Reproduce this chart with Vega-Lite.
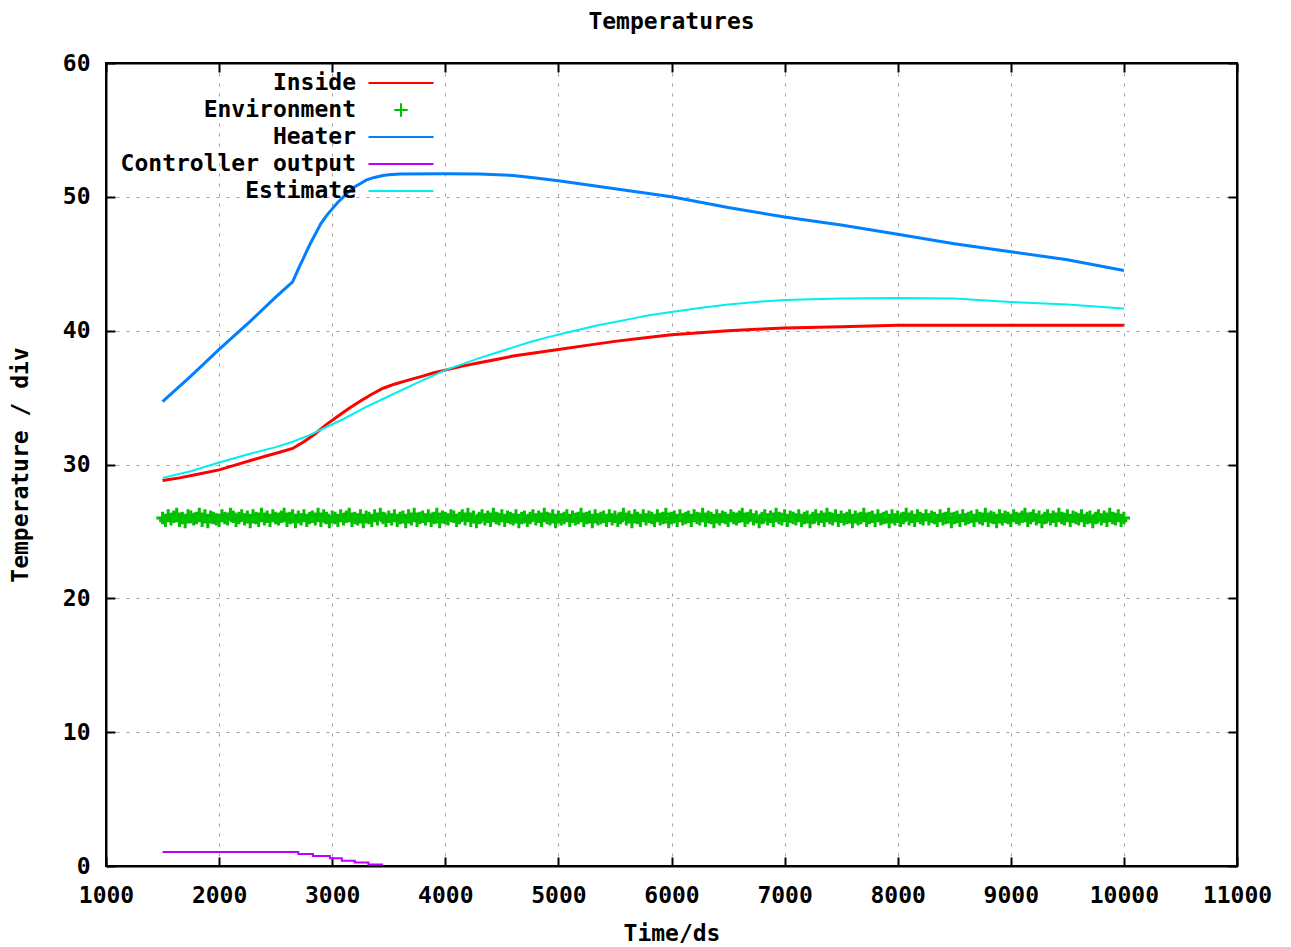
{
  "$schema": "https://vega.github.io/schema/vega-lite/v6.json",
  "width": 1131,
  "height": 803,
  "autosize": {"type": "none"},
  "padding": {"left": 106, "top": 63, "right": 54, "bottom": 81},
  "background": "white",
  "title": {"text": "Temperatures", "anchor": "middle", "offset": 18},
  "datasets": {
    "lines": [
      {"t": 1500, "s": "Inside", "v": 28.8},
      {"t": 1650, "s": "Inside", "v": 29.0},
      {"t": 1800, "s": "Inside", "v": 29.25},
      {"t": 2000, "s": "Inside", "v": 29.6},
      {"t": 2200, "s": "Inside", "v": 30.1},
      {"t": 2400, "s": "Inside", "v": 30.6},
      {"t": 2550, "s": "Inside", "v": 30.95},
      {"t": 2650, "s": "Inside", "v": 31.2},
      {"t": 2750, "s": "Inside", "v": 31.7},
      {"t": 2850, "s": "Inside", "v": 32.3},
      {"t": 2950, "s": "Inside", "v": 33.0},
      {"t": 3050, "s": "Inside", "v": 33.6},
      {"t": 3150, "s": "Inside", "v": 34.2},
      {"t": 3250, "s": "Inside", "v": 34.75},
      {"t": 3350, "s": "Inside", "v": 35.25},
      {"t": 3450, "s": "Inside", "v": 35.7},
      {"t": 3550, "s": "Inside", "v": 36.0},
      {"t": 3650, "s": "Inside", "v": 36.25},
      {"t": 3800, "s": "Inside", "v": 36.6},
      {"t": 3900, "s": "Inside", "v": 36.85},
      {"t": 4000, "s": "Inside", "v": 37.05},
      {"t": 4150, "s": "Inside", "v": 37.35},
      {"t": 4300, "s": "Inside", "v": 37.6},
      {"t": 4450, "s": "Inside", "v": 37.85},
      {"t": 4600, "s": "Inside", "v": 38.1},
      {"t": 4800, "s": "Inside", "v": 38.35},
      {"t": 5000, "s": "Inside", "v": 38.6},
      {"t": 5250, "s": "Inside", "v": 38.9},
      {"t": 5500, "s": "Inside", "v": 39.2},
      {"t": 5750, "s": "Inside", "v": 39.45},
      {"t": 6000, "s": "Inside", "v": 39.7},
      {"t": 6250, "s": "Inside", "v": 39.85},
      {"t": 6500, "s": "Inside", "v": 40.0},
      {"t": 6750, "s": "Inside", "v": 40.1},
      {"t": 7000, "s": "Inside", "v": 40.2},
      {"t": 7500, "s": "Inside", "v": 40.3},
      {"t": 8000, "s": "Inside", "v": 40.4},
      {"t": 9000, "s": "Inside", "v": 40.4},
      {"t": 10000, "s": "Inside", "v": 40.4},
      {"t": 1500, "s": "Heater", "v": 34.7},
      {"t": 1750, "s": "Heater", "v": 36.6},
      {"t": 2000, "s": "Heater", "v": 38.6},
      {"t": 2250, "s": "Heater", "v": 40.5},
      {"t": 2500, "s": "Heater", "v": 42.5},
      {"t": 2650, "s": "Heater", "v": 43.65},
      {"t": 2700, "s": "Heater", "v": 44.6},
      {"t": 2750, "s": "Heater", "v": 45.5},
      {"t": 2800, "s": "Heater", "v": 46.4},
      {"t": 2850, "s": "Heater", "v": 47.2},
      {"t": 2900, "s": "Heater", "v": 48.0},
      {"t": 2950, "s": "Heater", "v": 48.6},
      {"t": 3000, "s": "Heater", "v": 49.1},
      {"t": 3050, "s": "Heater", "v": 49.6},
      {"t": 3100, "s": "Heater", "v": 50.0},
      {"t": 3150, "s": "Heater", "v": 50.4},
      {"t": 3200, "s": "Heater", "v": 50.75},
      {"t": 3250, "s": "Heater", "v": 51.0},
      {"t": 3300, "s": "Heater", "v": 51.25},
      {"t": 3350, "s": "Heater", "v": 51.4},
      {"t": 3400, "s": "Heater", "v": 51.5},
      {"t": 3450, "s": "Heater", "v": 51.6},
      {"t": 3500, "s": "Heater", "v": 51.65},
      {"t": 3600, "s": "Heater", "v": 51.7},
      {"t": 4000, "s": "Heater", "v": 51.72},
      {"t": 4300, "s": "Heater", "v": 51.7},
      {"t": 4600, "s": "Heater", "v": 51.6},
      {"t": 4800, "s": "Heater", "v": 51.4},
      {"t": 5000, "s": "Heater", "v": 51.2},
      {"t": 5500, "s": "Heater", "v": 50.6},
      {"t": 6000, "s": "Heater", "v": 50.0},
      {"t": 6500, "s": "Heater", "v": 49.2},
      {"t": 7000, "s": "Heater", "v": 48.5},
      {"t": 7500, "s": "Heater", "v": 47.9},
      {"t": 8000, "s": "Heater", "v": 47.2},
      {"t": 8500, "s": "Heater", "v": 46.5},
      {"t": 9000, "s": "Heater", "v": 45.9},
      {"t": 9500, "s": "Heater", "v": 45.3},
      {"t": 10000, "s": "Heater", "v": 44.5},
      {"t": 1500, "s": "Controller output", "v": 1.05},
      {"t": 2700, "s": "Controller output", "v": 0.9},
      {"t": 2830, "s": "Controller output", "v": 0.75},
      {"t": 2980, "s": "Controller output", "v": 0.57},
      {"t": 3085, "s": "Controller output", "v": 0.4},
      {"t": 3200, "s": "Controller output", "v": 0.27},
      {"t": 3320, "s": "Controller output", "v": 0.12},
      {"t": 3450, "s": "Controller output", "v": 0.12},
      {"t": 1500, "s": "Estimate", "v": 29.0},
      {"t": 1750, "s": "Estimate", "v": 29.5},
      {"t": 2000, "s": "Estimate", "v": 30.15},
      {"t": 2250, "s": "Estimate", "v": 30.75},
      {"t": 2500, "s": "Estimate", "v": 31.3},
      {"t": 2650, "s": "Estimate", "v": 31.7},
      {"t": 2800, "s": "Estimate", "v": 32.2},
      {"t": 2950, "s": "Estimate", "v": 32.8},
      {"t": 3100, "s": "Estimate", "v": 33.4},
      {"t": 3300, "s": "Estimate", "v": 34.3},
      {"t": 3500, "s": "Estimate", "v": 35.1},
      {"t": 3750, "s": "Estimate", "v": 36.1},
      {"t": 4000, "s": "Estimate", "v": 37.05},
      {"t": 4150, "s": "Estimate", "v": 37.5},
      {"t": 4300, "s": "Estimate", "v": 37.95},
      {"t": 4450, "s": "Estimate", "v": 38.35},
      {"t": 4600, "s": "Estimate", "v": 38.75},
      {"t": 4750, "s": "Estimate", "v": 39.15},
      {"t": 4900, "s": "Estimate", "v": 39.5},
      {"t": 5050, "s": "Estimate", "v": 39.8},
      {"t": 5200, "s": "Estimate", "v": 40.1},
      {"t": 5350, "s": "Estimate", "v": 40.4},
      {"t": 5500, "s": "Estimate", "v": 40.65},
      {"t": 5650, "s": "Estimate", "v": 40.9},
      {"t": 5800, "s": "Estimate", "v": 41.15},
      {"t": 6000, "s": "Estimate", "v": 41.4},
      {"t": 6250, "s": "Estimate", "v": 41.7},
      {"t": 6500, "s": "Estimate", "v": 41.95},
      {"t": 6750, "s": "Estimate", "v": 42.15},
      {"t": 7000, "s": "Estimate", "v": 42.3},
      {"t": 7500, "s": "Estimate", "v": 42.4},
      {"t": 8000, "s": "Estimate", "v": 42.45},
      {"t": 8500, "s": "Estimate", "v": 42.4},
      {"t": 9000, "s": "Estimate", "v": 42.15},
      {"t": 9500, "s": "Estimate", "v": 41.95},
      {"t": 10000, "s": "Estimate", "v": 41.65}
    ],
    "env": [
      {"t":1500,"v":26.0},{"t":1525,"v":25.8},{"t":1550,"v":26.2},{"t":1575,"v":25.9},{"t":1600,"v":26.1},{"t":1625,"v":26.3},{"t":1650,"v":25.8},{"t":1675,"v":26.0},{"t":1700,"v":25.7},{"t":1725,"v":26.2},
      {"t":1750,"v":26.1},{"t":1775,"v":25.9},{"t":1800,"v":26.0},{"t":1825,"v":26.3},{"t":1850,"v":25.8},{"t":1875,"v":26.2},{"t":1900,"v":25.7},{"t":1925,"v":26.1},{"t":1950,"v":26.0},{"t":1975,"v":25.9},
      {"t":2000,"v":25.8},{"t":2025,"v":26.2},{"t":2050,"v":26.0},{"t":2075,"v":25.9},{"t":2100,"v":26.3},{"t":2125,"v":26.1},{"t":2150,"v":25.8},{"t":2175,"v":26.0},{"t":2200,"v":26.2},{"t":2225,"v":25.9},
      {"t":2250,"v":26.1},{"t":2275,"v":25.7},{"t":2300,"v":26.2},{"t":2325,"v":26.0},{"t":2350,"v":25.8},{"t":2375,"v":26.3},{"t":2400,"v":25.9},{"t":2425,"v":26.1},{"t":2450,"v":25.8},{"t":2475,"v":26.2},
      {"t":2500,"v":26.0},{"t":2525,"v":25.9},{"t":2550,"v":26.1},{"t":2575,"v":26.3},{"t":2600,"v":25.8},{"t":2625,"v":26.0},{"t":2650,"v":26.2},{"t":2675,"v":25.7},{"t":2700,"v":26.1},{"t":2725,"v":25.9},
      {"t":2750,"v":26.2},{"t":2775,"v":25.8},{"t":2800,"v":26.0},{"t":2825,"v":26.1},{"t":2850,"v":25.9},{"t":2875,"v":26.3},{"t":2900,"v":25.8},{"t":2925,"v":26.2},{"t":2950,"v":26.0},{"t":2975,"v":25.7},
      {"t":3000,"v":26.1},{"t":3025,"v":26.0},{"t":3050,"v":25.8},{"t":3075,"v":26.2},{"t":3100,"v":25.9},{"t":3125,"v":26.1},{"t":3150,"v":26.3},{"t":3175,"v":25.8},{"t":3200,"v":26.0},{"t":3225,"v":25.9},
      {"t":3250,"v":26.2},{"t":3275,"v":25.7},{"t":3300,"v":26.1},{"t":3325,"v":26.0},{"t":3350,"v":25.8},{"t":3375,"v":26.2},{"t":3400,"v":25.9},{"t":3425,"v":26.3},{"t":3450,"v":26.0},{"t":3475,"v":25.8},
      {"t":3500,"v":26.1},{"t":3525,"v":25.9},{"t":3550,"v":26.2},{"t":3575,"v":25.8},{"t":3600,"v":26.0},{"t":3625,"v":26.1},{"t":3650,"v":25.7},{"t":3675,"v":26.2},{"t":3700,"v":25.9},{"t":3725,"v":26.3},
      {"t":3750,"v":25.8},{"t":3775,"v":26.0},{"t":3800,"v":26.1},{"t":3825,"v":25.9},{"t":3850,"v":26.2},{"t":3875,"v":25.8},{"t":3900,"v":26.0},{"t":3925,"v":26.3},{"t":3950,"v":25.7},{"t":3975,"v":26.1},
      {"t":4000,"v":26.0},{"t":4025,"v":25.9},{"t":4050,"v":26.2},{"t":4075,"v":26.1},{"t":4100,"v":25.8},{"t":4125,"v":26.0},{"t":4150,"v":26.2},{"t":4175,"v":25.9},{"t":4200,"v":26.3},{"t":4225,"v":25.8},
      {"t":4250,"v":26.1},{"t":4275,"v":25.7},{"t":4300,"v":26.0},{"t":4325,"v":26.2},{"t":4350,"v":25.9},{"t":4375,"v":26.1},{"t":4400,"v":25.8},{"t":4425,"v":26.3},{"t":4450,"v":26.0},{"t":4475,"v":25.9},
      {"t":4500,"v":26.2},{"t":4525,"v":25.8},{"t":4550,"v":26.1},{"t":4575,"v":26.0},{"t":4600,"v":25.9},{"t":4625,"v":26.2},{"t":4650,"v":25.7},{"t":4675,"v":26.0},{"t":4700,"v":26.1},{"t":4725,"v":25.8},
      {"t":4750,"v":26.0},{"t":4775,"v":26.2},{"t":4800,"v":25.9},{"t":4825,"v":26.1},{"t":4850,"v":25.8},{"t":4875,"v":26.3},{"t":4900,"v":26.0},{"t":4925,"v":25.9},{"t":4950,"v":26.2},{"t":4975,"v":25.7},
      {"t":5000,"v":26.1},{"t":5025,"v":25.9},{"t":5050,"v":26.0},{"t":5075,"v":26.2},{"t":5100,"v":25.8},{"t":5125,"v":26.1},{"t":5150,"v":25.9},{"t":5175,"v":26.0},{"t":5200,"v":26.3},{"t":5225,"v":25.8},
      {"t":5250,"v":26.0},{"t":5275,"v":26.1},{"t":5300,"v":25.7},{"t":5325,"v":26.2},{"t":5350,"v":25.9},{"t":5375,"v":26.0},{"t":5400,"v":26.1},{"t":5425,"v":25.8},{"t":5450,"v":26.2},{"t":5475,"v":25.9},
      {"t":5500,"v":26.1},{"t":5525,"v":25.8},{"t":5550,"v":26.0},{"t":5575,"v":26.3},{"t":5600,"v":25.9},{"t":5625,"v":26.1},{"t":5650,"v":25.7},{"t":5675,"v":26.2},{"t":5700,"v":26.0},{"t":5725,"v":25.8},
      {"t":5750,"v":26.2},{"t":5775,"v":25.9},{"t":5800,"v":26.1},{"t":5825,"v":26.0},{"t":5850,"v":25.8},{"t":5875,"v":26.2},{"t":5900,"v":25.9},{"t":5925,"v":26.0},{"t":5950,"v":26.3},{"t":5975,"v":25.7},
      {"t":6000,"v":26.0},{"t":6025,"v":26.1},{"t":6050,"v":25.8},{"t":6075,"v":26.2},{"t":6100,"v":25.9},{"t":6125,"v":26.0},{"t":6150,"v":26.1},{"t":6175,"v":25.8},{"t":6200,"v":26.2},{"t":6225,"v":26.0},
      {"t":6250,"v":25.9},{"t":6275,"v":26.3},{"t":6300,"v":25.8},{"t":6325,"v":26.1},{"t":6350,"v":26.0},{"t":6375,"v":25.7},{"t":6400,"v":26.2},{"t":6425,"v":25.9},{"t":6450,"v":26.1},{"t":6475,"v":26.0},
      {"t":6500,"v":25.8},{"t":6525,"v":26.2},{"t":6550,"v":26.0},{"t":6575,"v":25.9},{"t":6600,"v":26.1},{"t":6625,"v":26.3},{"t":6650,"v":25.8},{"t":6675,"v":26.0},{"t":6700,"v":26.2},{"t":6725,"v":25.9},
      {"t":6750,"v":26.1},{"t":6775,"v":25.7},{"t":6800,"v":26.0},{"t":6825,"v":26.2},{"t":6850,"v":25.9},{"t":6875,"v":26.1},{"t":6900,"v":25.8},{"t":6925,"v":26.3},{"t":6950,"v":26.0},{"t":6975,"v":25.9},
      {"t":7000,"v":26.2},{"t":7025,"v":25.8},{"t":7050,"v":26.1},{"t":7075,"v":26.0},{"t":7100,"v":25.9},{"t":7125,"v":26.2},{"t":7150,"v":25.8},{"t":7175,"v":26.0},{"t":7200,"v":26.1},{"t":7225,"v":25.7},
      {"t":7250,"v":26.0},{"t":7275,"v":26.2},{"t":7300,"v":25.9},{"t":7325,"v":26.1},{"t":7350,"v":25.8},{"t":7375,"v":26.3},{"t":7400,"v":26.0},{"t":7425,"v":25.9},{"t":7450,"v":26.2},{"t":7475,"v":25.8},
      {"t":7500,"v":26.1},{"t":7525,"v":25.9},{"t":7550,"v":26.0},{"t":7575,"v":26.2},{"t":7600,"v":25.7},{"t":7625,"v":26.1},{"t":7650,"v":25.9},{"t":7675,"v":26.0},{"t":7700,"v":26.3},{"t":7725,"v":25.8},
      {"t":7750,"v":26.0},{"t":7775,"v":26.1},{"t":7800,"v":25.8},{"t":7825,"v":26.2},{"t":7850,"v":25.9},{"t":7875,"v":26.0},{"t":7900,"v":26.1},{"t":7925,"v":25.7},{"t":7950,"v":26.2},{"t":7975,"v":25.9},
      {"t":8000,"v":26.1},{"t":8025,"v":25.8},{"t":8050,"v":26.0},{"t":8075,"v":26.3},{"t":8100,"v":25.9},{"t":8125,"v":26.1},{"t":8150,"v":25.8},{"t":8175,"v":26.2},{"t":8200,"v":26.0},{"t":8225,"v":25.9},
      {"t":8250,"v":26.2},{"t":8275,"v":25.9},{"t":8300,"v":26.1},{"t":8325,"v":26.0},{"t":8350,"v":25.8},{"t":8375,"v":26.2},{"t":8400,"v":25.9},{"t":8425,"v":26.0},{"t":8450,"v":26.3},{"t":8475,"v":25.7},
      {"t":8500,"v":26.0},{"t":8525,"v":26.1},{"t":8550,"v":25.8},{"t":8575,"v":26.2},{"t":8600,"v":25.9},{"t":8625,"v":26.0},{"t":8650,"v":26.1},{"t":8675,"v":25.8},{"t":8700,"v":26.2},{"t":8725,"v":26.0},
      {"t":8750,"v":25.9},{"t":8775,"v":26.3},{"t":8800,"v":25.8},{"t":8825,"v":26.1},{"t":8850,"v":26.0},{"t":8875,"v":25.7},{"t":8900,"v":26.2},{"t":8925,"v":25.9},{"t":8950,"v":26.1},{"t":8975,"v":26.0},
      {"t":9000,"v":25.8},{"t":9025,"v":26.2},{"t":9050,"v":26.0},{"t":9075,"v":25.9},{"t":9100,"v":26.1},{"t":9125,"v":26.3},{"t":9150,"v":25.8},{"t":9175,"v":26.0},{"t":9200,"v":26.2},{"t":9225,"v":25.9},
      {"t":9250,"v":26.1},{"t":9275,"v":25.7},{"t":9300,"v":26.0},{"t":9325,"v":26.2},{"t":9350,"v":25.9},{"t":9375,"v":26.1},{"t":9400,"v":25.8},{"t":9425,"v":26.3},{"t":9450,"v":26.0},{"t":9475,"v":25.9},
      {"t":9500,"v":26.2},{"t":9525,"v":25.8},{"t":9550,"v":26.1},{"t":9575,"v":26.0},{"t":9600,"v":25.9},{"t":9625,"v":26.2},{"t":9650,"v":25.8},{"t":9675,"v":26.0},{"t":9700,"v":26.1},{"t":9725,"v":25.7},
      {"t":9750,"v":26.0},{"t":9775,"v":26.2},{"t":9800,"v":25.9},{"t":9825,"v":26.1},{"t":9850,"v":25.8},{"t":9875,"v":26.3},{"t":9900,"v":26.0},{"t":9925,"v":25.9},{"t":9950,"v":26.2},{"t":9975,"v":25.8},
      {"t":10000,"v":26.0}
    ]
  },
  "resolve": {"axis": {"x": "independent", "y": "independent"}},
  "layer": [
    {
      "data": {"name": "lines"},
      "transform": [{"filter": "datum.s === 'Inside'"}],
      "mark": {"type": "line", "strokeWidth": 3},
      "encoding": {
        "x": {"field": "t", "type": "quantitative", "title": "Time/ds",
              "scale": {"domain": [1000, 11000], "nice": false, "zero": false},
              "axis": {"values": [1000,2000,3000,4000,5000,6000,7000,8000,9000,10000,11000], "format": "d", "grid": true, "labelPadding": 27, "titlePadding": 15}},
        "y": {"field": "v", "type": "quantitative", "title": "Temperature / div",
              "scale": {"domain": [0, 60], "nice": false},
              "axis": {"values": [0,10,20,30,40,50,60], "grid": true, "labelPadding": 25, "titlePadding": 30}},
        "color": {"field": "s", "type": "nominal",
                  "scale": {"domain": ["Inside","Environment","Heater","Controller output","Estimate"],
                            "range": ["#ff0000","#00c000","#0080ff","#c000ff","#00eeee"]},
                  "legend": {"title": null, "orient": "none", "legendX": 283, "legendY": 8}}
      }
    },
    {
      "data": {"name": "env"},
      "transform": [{"calculate": "'Environment'", "as": "s"}],
      "mark": {"type": "point", "filled": false, "strokeWidth": 3, "size": 400, "opacity": 1},
      "encoding": {
        "x": {"field": "t", "type": "quantitative",
              "axis": {"orient": "top", "labels": false, "grid": false, "title": null, "values": [1000,2000,3000,4000,5000,6000,7000,8000,9000,10000,11000]}},
        "y": {"field": "v", "type": "quantitative",
              "axis": {"orient": "right", "labels": false, "grid": false, "title": null, "values": [0,10,20,30,40,50,60]}},
        "color": {"field": "s", "type": "nominal"},
        "shape": {"field": "s", "type": "nominal",
                  "scale": {"domain": ["Inside","Environment","Heater","Controller output","Estimate"],
                            "range": ["M-3,0H3","M-0.62,0H0.62M0,-0.62V0.62","M-3,0H3","M-3,0H3","M-3,0H3"]},
                  "legend": {"title": null, "orient": "none", "legendX": 283, "legendY": 8}}
      }
    },
    {
      "data": {"name": "lines"},
      "transform": [{"filter": "datum.s === 'Heater'"}],
      "mark": {"type": "line", "strokeWidth": 3},
      "encoding": {
        "x": {"field": "t", "type": "quantitative", "axis": null},
        "y": {"field": "v", "type": "quantitative", "axis": null},
        "color": {"field": "s", "type": "nominal"}
      }
    },
    {
      "data": {"name": "lines"},
      "transform": [{"filter": "datum.s === 'Controller output'"}],
      "mark": {"type": "line", "strokeWidth": 2, "interpolate": "step-after"},
      "encoding": {
        "x": {"field": "t", "type": "quantitative", "axis": null},
        "y": {"field": "v", "type": "quantitative", "axis": null},
        "color": {"field": "s", "type": "nominal"}
      }
    },
    {
      "data": {"name": "lines"},
      "transform": [{"filter": "datum.s === 'Estimate'"}],
      "mark": {"type": "line", "strokeWidth": 2},
      "encoding": {
        "x": {"field": "t", "type": "quantitative", "axis": null},
        "y": {"field": "v", "type": "quantitative", "axis": null},
        "color": {"field": "s", "type": "nominal"}
      }
    }
  ],
  "config": {
    "font": "DejaVu Sans Mono",
    "view": {"stroke": "black", "strokeWidth": 2},
    "title": {"font": "DejaVu Sans Mono", "fontSize": 23, "fontWeight": "bold", "color": "black"},
    "axis": {
      "labelFont": "DejaVu Sans Mono", "labelFontSize": 23, "labelFontWeight": "bold", "labelColor": "black",
      "titleFont": "DejaVu Sans Mono", "titleFontSize": 23, "titleFontWeight": "bold", "titleColor": "black",
      "domainColor": "black", "domainWidth": 2, "tickColor": "black", "tickWidth": 2, "tickSize": -9,
      "gridColor": "#a0a0a0", "gridDash": [3, 7], "gridWidth": 1, "gridOpacity": 1, "labelFlush": false, "labelOverlap": false
    },
    "legend": {
      "labelFont": "DejaVu Sans Mono", "labelFontSize": 23, "labelFontWeight": "bold", "labelColor": "black",
      "symbolStrokeWidth": 2, "symbolSize": 470, "labelAlign": "right", "labelOffset": -57, "labelLimit": 500,
      "rowPadding": 3, "symbolOpacity": 1
    }
  }
}
